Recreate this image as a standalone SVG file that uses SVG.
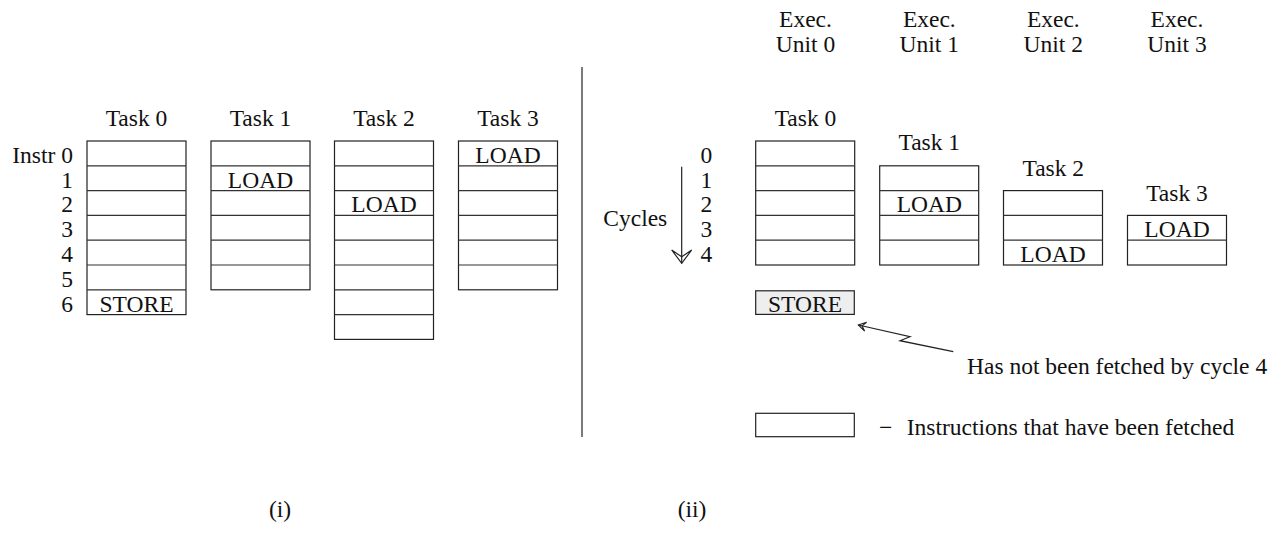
<svg xmlns="http://www.w3.org/2000/svg" width="1286" height="533" viewBox="0 0 1286 533">
  <style>
    .t { font-family: "Liberation Serif", "Times New Roman", serif; font-size: 23.5px; fill: #111; }
    .c { text-anchor: middle; }
    .e { text-anchor: end; }
    .box { fill: #fff; stroke: #222; stroke-width: 1.2; }
    .row { stroke: #333; stroke-width: 1.2; }
    .ln { fill: none; stroke: #222; stroke-width: 1.2; }
  </style>
  <defs>
    <marker id="headBig" markerUnits="userSpaceOnUse" viewBox="-15 -12 17 24" refX="0" refY="0" markerWidth="17" markerHeight="24" orient="auto">
      <path d="M-13.3,-10 L0,0 L-13.3,10 L-6.5,0 Z" fill="none" stroke="#222" stroke-width="1.2" stroke-linejoin="miter"/>
    </marker>
    <marker id="headSmall" markerUnits="userSpaceOnUse" viewBox="-10 -7 12 14" refX="0" refY="0" markerWidth="12" markerHeight="14" orient="auto">
      <path d="M-7.5,-4.5 L0,0 L-7.5,4.5 L-3.8,0 Z" fill="none" stroke="#222" stroke-width="1.1"/>
    </marker>
  </defs>

  <!-- (i) static task layout -->
  <g id="instr-labels">
    <text class="t e" x="73" y="162.8">Instr 0</text>
    <text class="t e" x="73" y="187.6">1</text>
    <text class="t e" x="73" y="212.4">2</text>
    <text class="t e" x="73" y="237.2">3</text>
    <text class="t e" x="73" y="262">4</text>
    <text class="t e" x="73" y="286.8">5</text>
    <text class="t e" x="73" y="311.6">6</text>
  </g>

  <g id="left-task0">
    <text class="t c" x="136.5" y="126">Task 0</text>
    <rect class="box" x="87" y="141" width="99" height="173.6"/>
    <path class="row" d="M87,165.8H186M87,190.6H186M87,215.4H186M87,240.2H186M87,265H186M87,289.8H186"/>
    <text class="t c" x="136.5" y="311.6">STORE</text>
  </g>

  <g id="left-task1">
    <text class="t c" x="260.5" y="126">Task 1</text>
    <rect class="box" x="211" y="141" width="99" height="148.8"/>
    <path class="row" d="M211,165.8H310M211,190.6H310M211,215.4H310M211,240.2H310M211,265H310"/>
    <text class="t c" x="260.5" y="187.6">LOAD</text>
  </g>

  <g id="left-task2">
    <text class="t c" x="384" y="126">Task 2</text>
    <rect class="box" x="334.5" y="141" width="99" height="198.4"/>
    <path class="row" d="M334.5,165.8H433.5M334.5,190.6H433.5M334.5,215.4H433.5M334.5,240.2H433.5M334.5,265H433.5M334.5,289.8H433.5M334.5,314.6H433.5"/>
    <text class="t c" x="384" y="212.4">LOAD</text>
  </g>

  <g id="left-task3">
    <text class="t c" x="508" y="126">Task 3</text>
    <rect class="box" x="458.5" y="141" width="99" height="148.8"/>
    <path class="row" d="M458.5,165.8H557.5M458.5,190.6H557.5M458.5,215.4H557.5M458.5,240.2H557.5M458.5,265H557.5"/>
    <text class="t c" x="508" y="162.8">LOAD</text>
  </g>

  <g id="divider">
    <line class="ln" x1="582" y1="67" x2="582" y2="437"/>
  </g>

  <!-- (ii) execution units -->
  <g id="unit-labels">
    <text class="t c" x="805.5" y="26.7">Exec.</text>
    <text class="t c" x="805.5" y="52.3">Unit 0</text>
    <text class="t c" x="929.3" y="26.7">Exec.</text>
    <text class="t c" x="929.3" y="52.3">Unit 1</text>
    <text class="t c" x="1053.3" y="26.7">Exec.</text>
    <text class="t c" x="1053.3" y="52.3">Unit 2</text>
    <text class="t c" x="1177" y="26.7">Exec.</text>
    <text class="t c" x="1177" y="52.3">Unit 3</text>
  </g>

  <g id="cycle-labels">
    <text class="t" x="603.3" y="226">Cycles</text>
    <text class="t" x="700.5" y="162.8">0</text>
    <text class="t" x="700.5" y="187.6">1</text>
    <text class="t" x="700.5" y="212.4">2</text>
    <text class="t" x="700.5" y="237.2">3</text>
    <text class="t" x="700.5" y="262">4</text>
  </g>

  <g id="right-task0">
    <text class="t c" x="805.5" y="125.7">Task 0</text>
    <rect class="box" x="755.7" y="141" width="99" height="124"/>
    <path class="row" d="M755.7,165.8H854.7M755.7,190.6H854.7M755.7,215.4H854.7M755.7,240.2H854.7"/>
  </g>

  <g id="right-task1">
    <text class="t c" x="929.3" y="150">Task 1</text>
    <rect class="box" x="879.7" y="165.8" width="99" height="99.2"/>
    <path class="row" d="M879.7,190.6H978.7M879.7,215.4H978.7M879.7,240.2H978.7"/>
    <text class="t c" x="929.3" y="212.4">LOAD</text>
  </g>

  <g id="right-task2">
    <text class="t c" x="1053.3" y="175.7">Task 2</text>
    <rect class="box" x="1003.5" y="190.6" width="99" height="74.4"/>
    <path class="row" d="M1003.5,215.4H1102.5M1003.5,240.2H1102.5"/>
    <text class="t c" x="1053" y="262">LOAD</text>
  </g>

  <g id="right-task3">
    <text class="t c" x="1177" y="201">Task 3</text>
    <rect class="box" x="1127.5" y="215.4" width="99" height="49.6"/>
    <path class="row" d="M1127.5,240.2H1226.5"/>
    <text class="t c" x="1177" y="237.2">LOAD</text>
  </g>

  <g id="pending-store">
    <rect class="box" x="755.7" y="290.8" width="98.6" height="23.6" style="fill:#eeeeee"/>
    <text class="t c" x="805" y="311.6">STORE</text>
  </g>

  <g id="note">
    <text class="t" x="967" y="374.3">Has not been fetched by cycle 4</text>
  </g>

  <g id="legend">
    <rect class="box" x="755.7" y="413.3" width="98.6" height="23.4"/>
    <text class="t" x="879" y="435"><tspan>−</tspan><tspan x="906.7">Instructions that have been fetched</tspan></text>
  </g>

  <g id="captions">
    <text class="t c" x="280" y="517">(i)</text>
    <text class="t c" x="692" y="517">(ii)</text>
  </g>

  <g id="connectors">
    <line class="ln" x1="681.7" y1="166.7" x2="681.7" y2="263.3" marker-end="url(#headBig)"/>
    <polyline class="ln" points="953.3,351.7 900,340.7 910,336.7 858.3,325" marker-end="url(#headSmall)"/>
  </g>
</svg>
